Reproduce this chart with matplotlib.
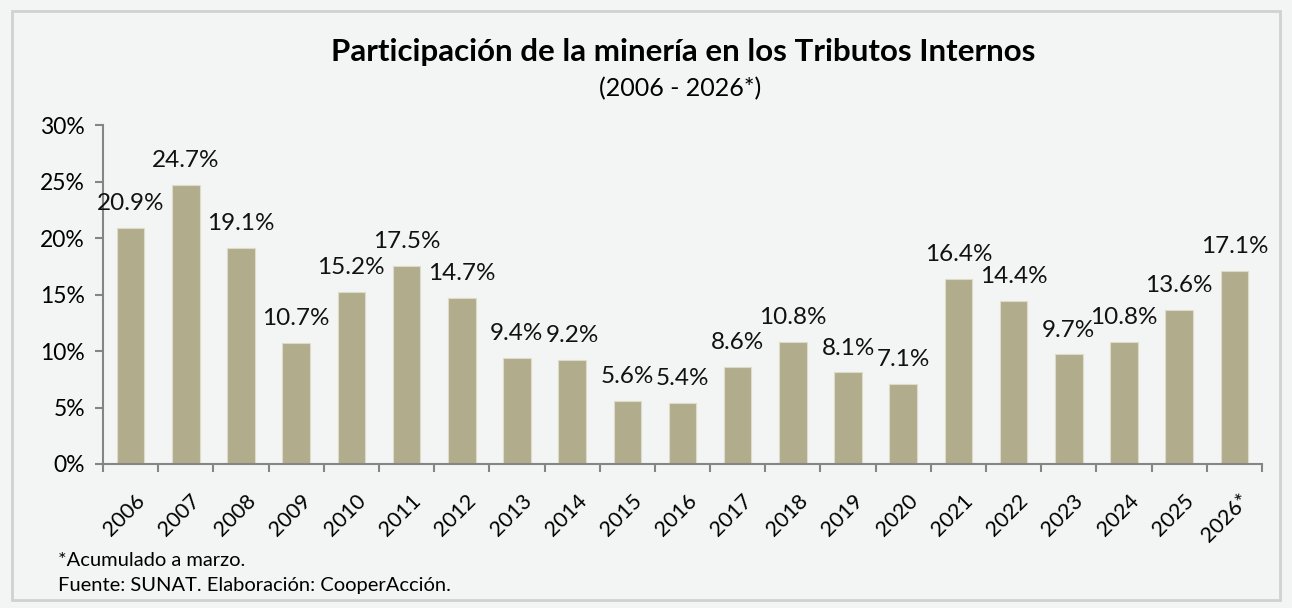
import matplotlib.pyplot as plt
from matplotlib.patches import Rectangle
from matplotlib.ticker import FuncFormatter

years = ["2006", "2007", "2008", "2009", "2010", "2011", "2012", "2013", "2014",
         "2015", "2016", "2017", "2018", "2019", "2020", "2021", "2022", "2023",
         "2024", "2025", "2026*"]
share = [20.9, 24.7, 19.1, 10.7, 15.2, 17.5, 14.7, 9.4, 9.2, 5.6, 5.4, 8.6,
         10.8, 8.1, 7.1, 16.4, 14.4, 9.7, 10.8, 13.6, 17.1]

BG = "#f3f5f4"
BAR = "#b1ac8c"
AXIS = "#858585"

plt.rcParams["font.family"] = ["Lato", "DejaVu Sans"]

fig = plt.figure(figsize=(12.92, 6.08), dpi=100, facecolor=BG)
# outer frame
fig.patches.append(Rectangle((12 / 1292, 8 / 608), 1268 / 1292, 589 / 608,
                             transform=fig.transFigure, fill=False,
                             edgecolor="#d0d1d0", linewidth=2))

ax = fig.add_axes([103 / 1292, (608 - 464) / 608, (1262 - 103) / 1292, (464 - 125) / 608])
ax.set_facecolor(BG)

x = list(range(len(years)))
bars = ax.bar(x, share, width=0.5, color=BAR, edgecolor="#dedcc9", linewidth=0.8)
for xi, v in zip(x, share):
    ax.annotate(f"{v:.1f}%", (xi, v), xytext=(0, 10), textcoords="offset points",
                ha="center", va="bottom", fontsize=17.5, color="#111111")

ax.set_xlim(-0.5, len(years) - 0.5)
ax.set_ylim(0, 30)
ax.set_yticks(range(0, 31, 5))
ax.yaxis.set_major_formatter(FuncFormatter(lambda v, p: f"{v:.0f}%"))
ax.tick_params(axis="y", labelsize=16.5, color=AXIS, length=6, width=1.5, pad=7)

# category boundary ticks like Excel
ax.set_xticks([i - 0.5 for i in range(len(years) + 1)])
ax.set_xticklabels([])
ax.set_xticks([i + 0.08 for i in x], minor=True)
ax.set_xticklabels(years, minor=True, rotation=45, ha="right", va="top",
                   rotation_mode="anchor", fontsize=15.5)
ax.tick_params(axis="x", which="major", length=6, width=1.5, color=AXIS)
ax.tick_params(axis="x", which="minor", length=0, pad=19)

for s in ["top", "right"]:
    ax.spines[s].set_visible(False)
for s in ["left", "bottom"]:
    ax.spines[s].set_color(AXIS)
    ax.spines[s].set_linewidth(1.5)

fig.text(683 / 1292, 1 - 52 / 608, "Participación de la minería en los Tributos Internos",
         ha="center", va="center", fontsize=22.5, fontweight="bold")
fig.text(680 / 1292, 1 - 89 / 608, "(2006 - 2026*)", ha="center", va="center", fontsize=18)

fig.text(58 / 1292, 1 - 561 / 608, "*Acumulado a marzo.", ha="left", va="center", fontsize=14.5)
fig.text(58 / 1292, 1 - 586 / 608, "Fuente: SUNAT. Elaboración: CooperAcción.",
         ha="left", va="center", fontsize=14.5)

fig.savefig("out.png", dpi=100, facecolor=BG)
